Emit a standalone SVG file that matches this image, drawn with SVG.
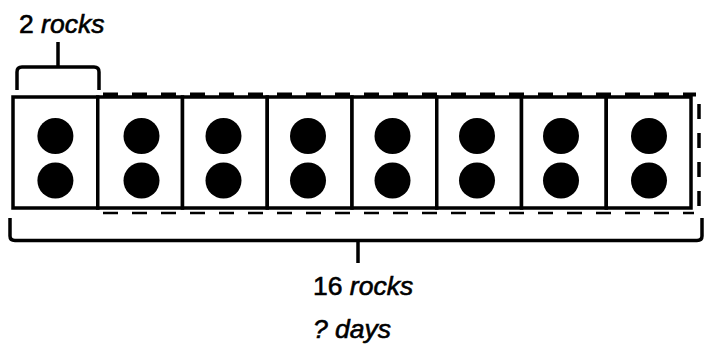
<svg xmlns="http://www.w3.org/2000/svg" width="704" height="352" viewBox="0 0 704 352">
<style>
.cell{fill:#fff;stroke:#000;stroke-width:3.5}
.dot{fill:#000}
.dash{fill:none;stroke:#000;stroke-dasharray:15 14}
.brace{fill:none;stroke:#000;stroke-width:3.5;stroke-linejoin:round}
.lbl{font-family:"Liberation Sans",Arial,sans-serif;font-size:26.5px;fill:#000;stroke:#000;stroke-width:0.6}
.it{font-style:italic}
</style>
<rect width="704" height="352" fill="#fff"/>
<g id="connectors">
<path class="dash" d="M103 94.5 H696" stroke-width="4"/>
<path class="dash" d="M103 213 H694" stroke-width="2.5"/>
<path class="dash" d="M699 104 V210" stroke-width="3.5" stroke-dasharray="14 12"/>
</g>
<g id="brace-top">
<path class="brace" d="M17 90 V72 Q17 67 22 67 H94 Q99 67 99 72 V90 M58 67 V42"/>
</g>
<g id="brace-bottom">
<path class="brace" d="M10 218 V236 Q10 240.5 15 240.5 H697 Q702 240.5 702 236 V218 M358 240.5 V263"/>
</g>
<g id="cells">
<g id="cell1"><rect class="cell" x="13" y="97" width="84.75" height="111"/><circle class="dot" cx="55.4" cy="136" r="18"/><circle class="dot" cx="55.4" cy="180.5" r="18"/></g>
<g id="cell2"><rect class="cell" x="97.75" y="97" width="84.75" height="111"/><circle class="dot" cx="141.5" cy="136" r="18"/><circle class="dot" cx="141.5" cy="180.5" r="18"/></g>
<g id="cell3"><rect class="cell" x="182.5" y="97" width="84.75" height="111"/><circle class="dot" cx="223.5" cy="136" r="18"/><circle class="dot" cx="223.5" cy="180.5" r="18"/></g>
<g id="cell4"><rect class="cell" x="267.25" y="97" width="84.75" height="111"/><circle class="dot" cx="308" cy="136" r="18"/><circle class="dot" cx="308" cy="180.5" r="18"/></g>
<g id="cell5"><rect class="cell" x="352" y="97" width="84.75" height="111"/><circle class="dot" cx="392.5" cy="136" r="18"/><circle class="dot" cx="392.5" cy="180.5" r="18"/></g>
<g id="cell6"><rect class="cell" x="436.75" y="97" width="84.75" height="111"/><circle class="dot" cx="477" cy="136" r="18"/><circle class="dot" cx="477" cy="180.5" r="18"/></g>
<g id="cell7"><rect class="cell" x="521.5" y="97" width="84.75" height="111"/><circle class="dot" cx="561" cy="136" r="18"/><circle class="dot" cx="561" cy="180.5" r="18"/></g>
<g id="cell8"><rect class="cell" x="606.25" y="97" width="84.75" height="111"/><circle class="dot" cx="649" cy="136" r="18"/><circle class="dot" cx="649" cy="180.5" r="18"/></g>
</g>
<g id="labels">
<text class="lbl" x="19" y="33">2 <tspan class="it">rocks</tspan></text>
<text class="lbl" x="313" y="295">16 <tspan class="it">rocks</tspan></text>
<text class="lbl it" x="313" y="338">? days</text>
</g>
</svg>
